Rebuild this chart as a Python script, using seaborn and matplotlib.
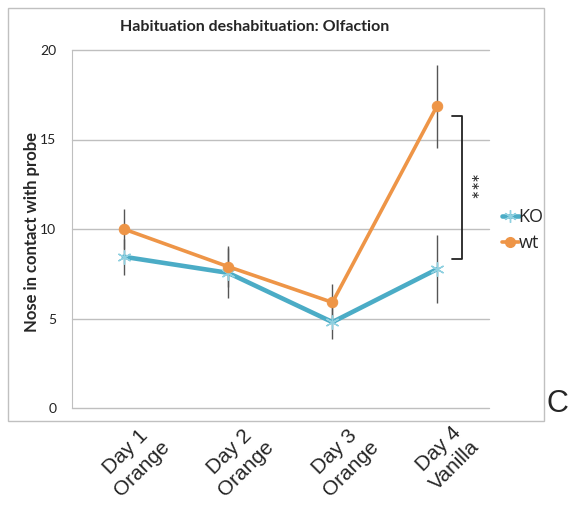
import numpy as np
import pandas as pd
import seaborn as sns
import matplotlib.pyplot as plt
import matplotlib.transforms as mtransforms
from matplotlib.lines import Line2D
from matplotlib.patches import Rectangle

# data
days = ["Day 1\nOrange", "Day 2\nOrange", "Day 3\nOrange", "Day 4\nVanilla"]
ko_mean = [8.45, 7.55, 4.8, 7.75]
ko_err = [1.0, 1.4, 0.95, 1.9]
wt_mean = [10.0, 7.9, 5.9, 16.85]
wt_err = [1.1, 1.15, 1.0, 2.3]

ko_col = "#4BACC6"
wt_col = "#EE9547"

sns.set_style("white")
plt.rcParams["font.family"] = ["Lato", "DejaVu Sans"]

df = pd.DataFrame({
    "pos": list(range(len(days))) * 2,
    "value": ko_mean + wt_mean,
    "group": ["KO"] * 4 + ["wt"] * 4,
})

fig = plt.figure(figsize=(5.68, 5.05), dpi=100)
ax = fig.add_axes([71.5 / 568, 97 / 505, (489 - 71.5) / 568, 358 / 505])

# outer chart frame
fig.patches.append(Rectangle((8 / 568, 84 / 505), 536 / 568, 413 / 505,
                             transform=fig.transFigure, fill=False,
                             edgecolor="#c0c0c0", lw=1.0, zorder=0))

# error bars first (behind lines)
x = np.arange(len(days))
ax.errorbar(x, wt_mean, yerr=wt_err, fmt="none", ecolor="#555555", elinewidth=1.0, zorder=2)
ax.errorbar(x, ko_mean, yerr=ko_err, fmt="none", ecolor="#555555", elinewidth=1.0, zorder=2)

sns.lineplot(data=df[df.group == "KO"], x="pos", y="value", ax=ax, color=ko_col,
             lw=3.3, marker=(6, 2, 0), markersize=10, markeredgecolor="#8fd0e0",
             markeredgewidth=1.0, legend=False, zorder=3)
sns.lineplot(data=df[df.group == "wt"], x="pos", y="value", ax=ax, color=wt_col,
             lw=2.6, marker="o", markersize=7.5, markeredgecolor=wt_col,
             legend=False, zorder=4)

ax.set_xlim(-0.5, 3.5)
ax.set_ylim(0, 20)
ax.set_yticks([0, 5, 10, 15, 20])
ax.yaxis.grid(True, color="#bfbfbf", lw=1.0)
for gl in ax.get_ygridlines():
    gl.set_clip_on(False)
ax.set_axisbelow(True)
for s in ["top", "right", "bottom"]:
    ax.spines[s].set_visible(False)
ax.spines["left"].set_color("#bfbfbf")
ax.tick_params(axis="y", length=6, color="#bfbfbf", labelsize=10, labelcolor="#222222", pad=5)
ax.tick_params(axis="x", length=0)
ax.set_xticks(x)
ax.set_xticklabels(days, rotation=45, ha="center", va="top", fontsize=15,
                   family="Liberation Sans", linespacing=1.3)
offset = mtransforms.ScaledTranslation(10 / 100, -8 / 100, fig.dpi_scale_trans)
for lab in ax.get_xticklabels():
    lab.set_transform(lab.get_transform() + offset)

ax.set_xlabel("")
ax.set_ylabel("")
fig.text(32 / 568, 1 - 232 / 505, "Nose in contact with probe", rotation=90,
         fontsize=12, fontweight="bold", ha="center", va="center")
fig.text(255 / 568, 1 - 27 / 505, "Habituation deshabituation: Olfaction",
         fontsize=11.5, fontweight="bold", ha="center", va="center")

# significance bracket
ax.plot([3.15, 3.24, 3.24, 3.15], [16.3, 16.3, 8.3, 8.3], color="#222222", lw=1.3,
        clip_on=False)
ax.text(3.29, 12.35, "***", rotation=270, ha="center", va="center", fontsize=15,
        color="#222222")

# legend
handles = [
    Line2D([], [], color=ko_col, lw=3.3, marker=(6, 2, 0), markersize=9,
           markeredgecolor="#8fd0e0"),
    Line2D([], [], color=wt_col, lw=2.6, marker="o", markersize=7),
]
fig.legend(handles, ["KO", "wt"], loc="center left", bbox_to_anchor=(486 / 568, 1 - 230 / 505),
           frameon=False, handlelength=0.9, handletextpad=0.0, labelspacing=0.45,
           prop={"family": "Open Sans", "size": 13})

fig.text(547 / 568, 1 - 404 / 505, "C", fontsize=22, family="Liberation Sans",
         ha="left", va="center")

fig.savefig("out.png", dpi=100)
